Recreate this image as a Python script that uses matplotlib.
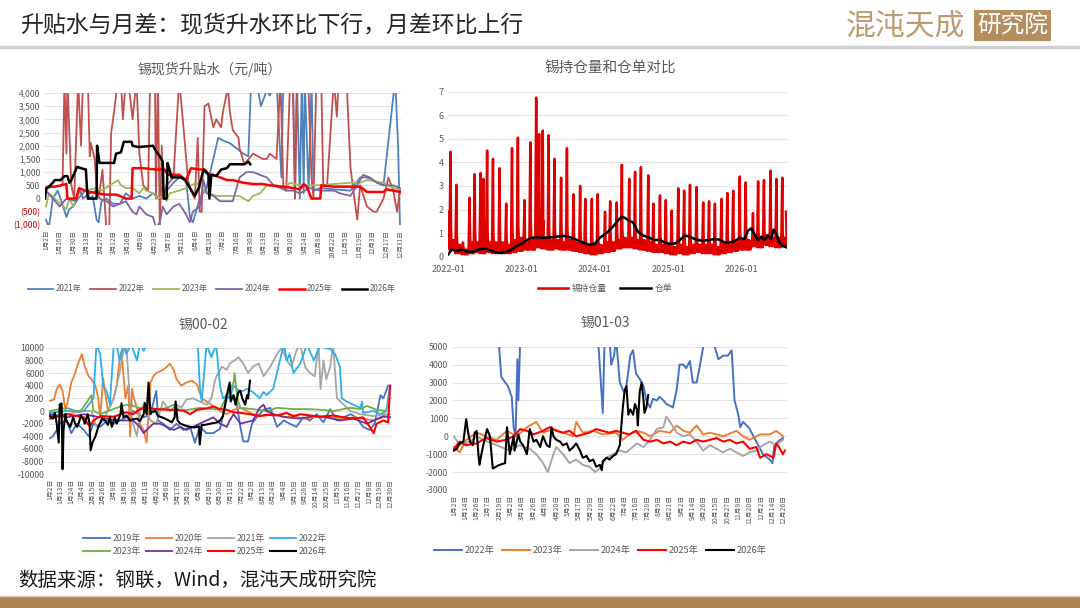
import matplotlib
matplotlib.use("Agg")
import matplotlib.pyplot as plt
from matplotlib.lines import Line2D
from matplotlib.patches import Rectangle

plt.rcParams["font.family"] = ["Noto Sans CJK SC", "DejaVu Sans"]
plt.rcParams["axes.unicode_minus"] = False

GRAY = "#595959"
GRID = "#E3E3E3"

# ---------------- 锡现货升贴水 (x = day of year) ----------------
spot_ticks = ["1月2日", "1月16日", "1月30日", "2月13日", "2月27日", "3月12日", "3月26日",
              "4月9日", "4月23日", "5月7日", "5月21日", "6月4日", "6月18日", "7月2日",
              "7月16日", "7月30日", "8月13日", "8月27日", "9月10日", "9月24日", "10月8日",
              "10月22日", "11月5日", "11月19日", "12月3日", "12月17日", "12月31日"]

spot_2021_d = [1, 4, 8, 13, 16, 22, 25, 29, 34, 39, 42, 46, 49, 53, 55, 58, 63, 70, 77, 83,
               90, 97, 104, 111, 118, 125, 132, 138, 145, 149, 152, 156, 159, 166, 173, 178, 183, 190, 197, 204,
               209, 212, 217, 222, 228, 231, 238, 243, 245, 255, 257, 259, 262, 264, 266, 267, 271, 274, 276, 283,
               297, 314, 324, 331, 348, 360, 363, 365]
spot_2021_v = [-800, -1100, 0, 300, 0, -700, -400, -300, 0, 200, 350, 0, 100, -800, -900, -100, 0, -200, -200, 200,
               0, 100, 0, 200, 0, 300, 600, 800, 700, -700, -900, -400, 0, 400, 1500, 2300, 2200, 2100, 1900, 1700,
               1600, 4500, 4500, 3500, 4100, 3900, 4500, 800, 4500, 4500, 0, 4500, 0, 4500, 200, 4500, 300, 4500, 300, 400,
               350, 300, 800, 800, 500, 4500, 2000, -1100]

spot_2022_d = [1, 18, 20, 22, 23, 27, 30, 34, 37, 39, 44, 46, 47, 51, 53, 56, 59, 61, 63, 66,
               68, 71, 75, 78, 80, 83, 87, 90, 94, 97, 101, 106, 108, 113, 114, 116, 118, 120, 121, 125,
               132, 138, 144, 147, 150, 154, 157, 159, 161, 164, 168, 173, 176, 181, 183, 188, 190, 193, 199, 200,
               205, 207, 214, 224, 228, 231, 238, 242, 245, 248, 252, 255, 257, 259, 269, 271, 274, 276, 279, 284,
               286, 290, 297, 300, 302, 310, 314, 317, 321, 324, 331, 338, 341, 348, 353, 358, 362, 365]
spot_2022_v = [400, 500, 4500, 1700, 4500, 500, 0, 4500, 2000, 4500, 4500, 1600, 2100, 1500, 500, 200, 1100, 0, -1100, -1100,
               2500, 3300, 4500, 4500, 3000, 4500, 4000, 3000, 4500, 1700, 500, 300, 4500, 4500, 0, 4500, -1100, 2000, 0, 500,
               800, 4500, 2000, 700, 300, 0, 2300, -500, -500, 3500, 3600, 2700, 3000, 2700, 3300, 4200, 3300, 2600, 2300, 1900,
               1300, 1400, 1700, 1500, 1500, 1700, 1500, 4500, 500, 300, 4500, 4000, 0, 4500, 4500, 4000, 800, 0, 4500, 4500,
               500, 500, 4500, 3100, 4500, 4500, 1200, 300, -800, 500, -300, -500, -500, 0, 800, 300, -500, 300]

spot_2023_d = [1, 4, 10, 16, 22, 25, 29, 35, 42, 53, 59, 66, 71, 75, 78, 83, 90, 97, 101, 104,
               111, 116, 121, 125, 128, 138, 145, 150, 156, 163, 169, 176, 187, 200, 209, 214, 221, 228, 238, 245,
               252, 262, 279, 297, 314, 324, 331, 348, 358, 365]
spot_2023_v = [-300, 200, 0, -200, -400, 0, -300, 200, 300, 400, 300, 500, 600, 700, 500, 400, 400, 200, 400, 300,
               200, 0, 100, -100, 200, 300, 400, 500, 600, 300, 200, 100, 100, 100, -100, 100, 200, 500, 500, 400,
               600, 500, 500, 550, 600, 600, 700, 600, 400, 350]

spot_2024_d = [1, 8, 15, 22, 32, 35, 39, 46, 53, 56, 63, 70, 77, 83, 90, 94, 97, 104, 111, 114,
               118, 121, 125, 132, 138, 145, 149, 152, 159, 163, 166, 173, 180, 187, 193, 200, 207, 214, 221, 228,
               235, 242, 248, 255, 262, 272, 283, 297, 303, 314, 321, 327, 334, 341, 348, 358, 365]
spot_2024_v = [300, 0, -300, 0, -100, 400, 0, 200, 300, 0, -100, -300, -200, -100, -500, -600, -300, -600, -700, -1100,
               -900, -300, -600, -300, -200, -600, -900, -500, -300, 700, 200, 100, -100, -100, -100, 800, 1000, 1000, 900, 800,
               500, 400, 300, 300, 200, 400, 300, 300, 200, 100, 500, 900, 800, 600, 500, 500, 400]

spot_2025_d = [0, 4, 10, 16, 22, 23, 32, 35, 41, 46, 53, 63, 73, 77, 83, 89, 90, 101, 114, 123,
               126, 138, 145, 150, 159, 164, 169, 173, 180, 187, 193, 204, 214, 224, 231, 245, 255, 262, 266, 269,
               274, 283, 284, 297, 310, 324, 331, 348, 351, 358, 365]
spot_2025_v = [400, 450, 450, 500, 550, 0, 0, 400, 300, 250, 200, 150, 150, 100, 0, 0, 1150, 1150, 1100, 1100,
               900, 900, 700, 1150, 1100, 1100, 900, 900, 800, 700, 700, 600, 550, 550, 500, 450, 400, 350, 550, 450,
               0, 0, 500, 450, 450, 450, 250, 250, 350, 300, 250]

spot_2026_d = [0, 1, 4, 8, 10, 16, 20, 23, 25, 27, 30, 33, 37, 42, 43, 44, 53, 53.5, 55, 56,
               71, 73, 78, 81, 89, 90, 96, 111, 114, 118, 121, 122, 125, 126, 128, 130, 135, 140, 144, 149,
               154, 158, 163, 168, 169, 171, 176, 181, 187, 190, 205, 209, 211]
spot_2026_v = [0, 350, 450, 600, 700, 700, 850, 850, 600, 700, 950, 1200, 1150, 1100, 450, 0, 0, 2000, 1600, 1350,
               1350, 1700, 1750, 2150, 2150, 2000, 1950, 2000, 1800, 1600, 1400, 0, 0, 1350, 1100, 800, 800, 800, 700, 400,
               100, 400, 1100, 900, 0, 900, 850, 1100, 1150, 1300, 1300, 1400, 1300]

# ---------------- 锡持仓量和仓单对比 (x = decimal year) ----------------
hold_peak_t = [2022.03, 2022.11, 2022.20, 2022.29, 2022.36, 2022.44, 2022.48, 2022.53, 2022.61, 2022.70,
               2022.79, 2022.87, 2022.95, 2023.04, 2023.12, 2023.20, 2023.24, 2023.29, 2023.37, 2023.45,
               2023.54, 2023.62, 2023.71, 2023.80, 2023.87, 2023.96, 2024.04, 2024.14, 2024.21, 2024.30,
               2024.37, 2024.47, 2024.55, 2024.63, 2024.73, 2024.80, 2024.89, 2024.97, 2025.05, 2025.14,
               2025.22, 2025.30, 2025.39, 2025.48, 2025.56, 2025.64, 2025.73, 2025.81, 2025.89, 2025.98,
               2026.06, 2026.16, 2026.23, 2026.31, 2026.40, 2026.48, 2026.56]
hold_peak_v = [4.45, 3.05, 0.6, 2.5, 3.5, 3.55, 3.3, 4.5, 4.15, 3.75,
               2.25, 4.6, 5.05, 2.4, 4.85, 6.75, 5.2, 5.35, 5.15, 4.15,
               3.35, 4.6, 2.65, 3.0, 2.45, 2.45, 2.65, 1.9, 2.35, 2.3,
               3.9, 3.3, 3.6, 3.8, 3.45, 2.25, 2.6, 2.4, 1.95, 2.9,
               2.8, 3.05, 2.95, 2.3, 2.35, 2.25, 2.45, 2.7, 2.8, 3.4,
               3.15, 1.85, 3.2, 3.25, 3.65, 3.3, 3.35]
hold_low_v = [0.3, 0.15, 0.1, 0.15, 0.2, 0.15, 0.5, 0.2, 0.15, 0.2,
              0.15, 0.2, 0.25, 0.3, 0.3, 0.4, 1.5, 0.35, 0.3, 0.35,
              0.3, 0.3, 0.25, 0.2, 0.15, 0.1, 0.15, 0.2, 0.25, 0.35,
              0.4, 0.4, 0.35, 0.3, 0.25, 0.2, 0.2, 0.15, 0.1, 0.15,
              0.1, 0.15, 0.2, 0.15, 0.15, 0.1, 0.15, 0.2, 0.25, 0.3,
              0.3, 0.45, 0.4, 0.5, 0.45, 0.4, 0.5]
hold_mid_v = [1.2, 0.9, 0.4, 1.0, 1.1, 1.0, 1.2, 1.1, 1.0, 1.0,
              0.8, 1.2, 1.3, 0.9, 1.4, 1.8, 1.6, 1.4, 1.3, 1.2,
              1.1, 1.2, 0.9, 1.0, 0.9, 0.8, 0.9, 0.8, 0.9, 1.0,
              1.2, 1.1, 1.1, 1.1, 1.0, 0.8, 0.9, 0.8, 0.7, 0.9,
              0.9, 0.9, 0.9, 0.8, 0.8, 0.8, 0.8, 0.9, 0.9, 1.0,
              1.0, 0.9, 1.1, 1.1, 1.2, 1.1, 1.0]
hold_reb_v = [0.7, 0.5, 0.3, 0.6, 0.6, 0.5, 0.9, 0.6, 0.6, 0.6,
              0.5, 0.7, 0.8, 0.6, 0.8, 1.0, 1.1, 0.8, 0.7, 0.7,
              0.6, 0.7, 0.6, 0.6, 0.5, 0.5, 0.5, 0.6, 0.6, 0.7,
              0.8, 0.8, 0.7, 0.7, 0.6, 0.5, 0.5, 0.5, 0.4, 0.5,
              0.4, 0.5, 0.5, 0.5, 0.5, 0.4, 0.5, 0.5, 0.6, 0.7,
              0.7, 0.8, 0.8, 0.9, 0.8, 0.8, 0.8]

receipt_t = [2022.00, 2022.045, 2022.114, 2022.182, 2022.25, 2022.341, 2022.409, 2022.477, 2022.545, 2022.636,
             2022.727, 2022.795, 2022.864, 2022.932, 2023.0, 2023.068, 2023.136, 2023.205, 2023.295, 2023.386,
             2023.477, 2023.568, 2023.636, 2023.727, 2023.841, 2023.932, 2024.0, 2024.068, 2024.159, 2024.227,
             2024.295, 2024.364, 2024.409, 2024.455, 2024.523, 2024.591, 2024.659, 2024.75, 2024.818, 2024.886,
             2024.955, 2025.023, 2025.091, 2025.159, 2025.227, 2025.295, 2025.364, 2025.455, 2025.545, 2025.636,
             2025.705, 2025.773, 2025.841, 2025.909, 2025.977, 2026.045, 2026.091, 2026.136, 2026.182, 2026.227,
             2026.273, 2026.318, 2026.364, 2026.409, 2026.441, 2026.477, 2026.523, 2026.568, 2026.614]
receipt_v = [0.1, 0.3, 0.25, 0.3, 0.22, 0.2, 0.3, 0.35, 0.3, 0.2,
             0.15, 0.2, 0.3, 0.45, 0.55, 0.7, 0.8, 0.82, 0.8, 0.82,
             0.85, 0.88, 0.85, 0.75, 0.6, 0.5, 0.55, 0.8, 1.0, 1.2,
             1.45, 1.7, 1.65, 1.55, 1.45, 1.05, 0.9, 0.8, 0.7, 0.72,
             0.6, 0.55, 0.55, 0.7, 0.9, 0.85, 0.75, 0.68, 0.7, 0.75,
             0.72, 0.6, 0.6, 0.65, 0.8, 0.75, 1.1, 1.2, 0.95, 0.7,
             0.85, 0.7, 0.9, 0.75, 1.15, 0.95, 0.6, 0.45, 0.4]

# ---------------- 锡00-02 (x = trading day index) ----------------
s02_ticks = ["1月2日", "1月13日", "1月24日", "2月4日", "2月15日", "2月26日", "3月8日", "3月19日",
             "3月30日", "4月11日", "4月22日", "5月6日", "5月17日", "5月28日", "6月8日", "6月19日",
             "6月30日", "7月11日", "7月22日", "8月2日", "8月13日", "8月24日", "9月4日", "9月15日",
             "9月26日", "10月14日", "10月25日", "11月5日", "11月16日", "11月27日", "12月8日",
             "12月19日", "12月30日"]

s02_2019_x = [0, 3, 7, 10, 17, 22, 28, 35, 40, 45, 52, 59, 66, 72, 79, 86, 97, 104, 110, 112,
              117, 124, 131, 138, 145, 150, 155, 162, 169, 176, 183, 190, 193, 197, 200, 205, 209, 214, 221, 228,
              235, 242, 248, 255, 262, 269, 276, 283, 290, 297, 304, 311, 317, 324, 331, 336, 342, 345, 350]
s02_2019_v = [-4300, -4000, -3000, -2000, -1500, -3500, -2000, -3000, -4000, -2000, -2500, -1500, -2000, -1500, -1000, 0, -1000, -500, 3200, -1500,
              -2000, -3000, -2000, -3000, -2500, -5000, -2500, -3500, -3500, -2800, 2000, 2500, 1500, -2500, -4800, -4800, -2000, -1000, 200, 500,
              -2500, -1500, -2000, -2500, -1000, -1500, -500, -1800, 300, -1500, -1000, -500, -1000, -2500, -3000, -2000, 2500, 2000, 4000]

s02_2020_x = [0, 4, 7, 10, 13, 16, 19, 22, 26, 29, 33, 36, 40, 43, 47, 50, 52, 55, 58, 60,
              66, 69, 72, 74, 78, 81, 83, 85, 86, 90, 93, 97, 100, 104, 107, 110, 117, 121, 124, 128,
              131, 136, 141, 147, 152, 157, 162, 169, 176, 183, 190, 197, 204, 210, 221, 231, 242, 252, 262, 273,
              283, 293, 304, 314, 324, 335, 345, 350]
s02_2020_v = [1600, 1800, 3500, 4200, 3200, 0, 2000, 4500, 6000, 7500, 9000, 7000, 5500, 5000, 4000, 2000, -1000, 5200, 2000, 0,
              2000, 4000, 8000, 9500, 2000, 4000, -4000, 3500, 2500, 500, -2000, -3000, -5000, 4500, 5500, 6000, 6500, 7000, 7500, 6500,
              5000, 4000, 4500, 4800, 4200, 2000, 1500, 800, 0, -500, 200, 500, 0, -500, -800, -500, -1000, -800, -1200, -1000,
              -800, -1000, -1200, -1000, -1200, -1500, -1000, -800]

s02_2021_x = [0, 17, 35, 43, 48, 55, 66, 72, 76, 79, 83, 86, 90, 93, 97, 104, 110, 117, 124, 131,
              136, 141, 148, 155, 162, 167, 171, 174, 178, 183, 186, 191, 195, 200, 205, 210, 216, 221, 228, 235,
              240, 245, 250, 255, 259, 264, 269, 274, 278, 280, 283, 286, 290, 293, 297, 304, 311, 321, 335, 345, 352]
s02_2021_v = [-800, -500, 0, 0, -2500, -1500, 2000, 6000, 9500, 10500, 1000, -2000, -4000, 0, 1000, -1500, -2000, 1500, 0, 1000,
              500, 1800, 2000, 1500, 1000, 2000, 5000, 6000, 7000, 6500, 7500, 8000, 8500, 7500, 6000, 7000, 7500, 5500, 7000, 9000,
              10000, 8000, 7000, 9500, 10500, 7000, 6000, 5500, 10500, 3500, 8000, 5000, 7000, 10500, 2000, 1000, 0, -500, -800, -500, -500]

s02_2022_x = [0, 17, 35, 45, 48, 52, 55, 59, 62, 66, 69, 72, 76, 79, 84, 90, 93, 97, 100, 153,
              155, 157, 162, 167, 172, 176, 179, 183, 186, 190, 197, 204, 210, 217, 221, 224, 231, 238, 242, 245,
              248, 252, 259, 266, 273, 280, 284, 290, 295, 300, 302, 307, 314, 321, 323, 324, 335, 342, 348, 352]
s02_2022_v = [-300, 0, 0, 2000, 10500, 9000, 4000, 3000, 1000, 10500, 10500, 8000, 10500, 9000, 10500, 8000, 10500, 9500, 10500, 10500,
              4000, 1500, 10500, 8500, 10500, 4000, 2000, 2500, 2000, 4000, 3000, 3500, 3000, 2000, 3000, 2500, 3500, 8000, 10500, 8000,
              9000, 6000, 7500, 10500, 8000, 10500, 10000, 9800, 9000, 7000, 2000, 1500, 1000, 500, 1500, -300, 0, -500, 0, 4000]

s02_2023_x = [0, 17, 31, 43, 45, 52, 69, 79, 86, 104, 121, 128, 135, 155, 169, 176, 190, 191, 194, 197,
              210, 224, 235, 252, 266, 280, 293, 311, 321, 328, 338, 348]
s02_2023_v = [0, 500, -200, 2500, 0, -500, 500, 1000, 800, 0, 500, 1000, 0, 500, 300, 200, 4500, 6000, 2000, 500,
              300, 0, 500, 300, 300, 200, 0, 500, 300, 800, 200, 0]

s02_2024_x = [0, 17, 35, 52, 69, 86, 93, 97, 100, 107, 114, 121, 128, 135, 141, 148, 162, 169, 176, 183,
              186, 190, 197, 210, 217, 221, 224, 231, 245, 259, 273, 286, 300, 314, 328, 335, 345, 352]
s02_2024_v = [-500, -1000, -500, -1000, -1500, -1500, -2500, -3500, -3000, -2000, -2000, -2500, -3000, -2500, -3000, -2500, -1500, -1000, -2000, -2500,
              -1500, -500, -2000, -1500, 500, 1000, 0, -500, -1000, -1200, -800, -1000, -1500, -1200, -2000, -1500, -800, -1000]

s02_2025_x = [0, 17, 35, 41, 45, 52, 66, 79, 86, 93, 100, 110, 121, 138, 145, 152, 162, 169, 176, 183,
              190, 197, 207, 217, 224, 235, 245, 252, 259, 269, 280, 293, 304, 314, 324, 331, 335, 338, 345, 350, 352]
s02_2025_v = [-1200, -500, -1000, -2500, -1500, -800, -900, -200, -500, 300, 500, 300, 200, 100, -500, 200, 400, 700, 300, 200,
              -200, -300, -500, -800, -600, -700, -300, -800, -500, -700, -900, -700, -1000, -1200, -1000, -2500, -3500, -2000, -1500, -1800, 4000]

s02_2026_x = [0, 3, 5, 7, 9, 10, 12, 13, 14, 16, 17, 21, 24, 26, 28, 30, 32, 35, 36, 39,
              41, 42, 44, 47, 50, 54, 57, 60, 62, 64, 67, 69, 73, 74, 76, 79, 83, 86, 90, 93,
              97, 98, 100, 102, 104, 105, 109, 112, 116, 119, 123, 126, 129, 130, 132, 135, 140, 145, 150, 154,
              155, 157, 160, 166, 173, 176, 179, 183, 186, 187, 190, 192, 195, 197, 199, 202, 204, 205, 207]
s02_2026_v = [-800, -1200, -300, -2000, -5000, 1000, 1200, -9200, -3000, -500, -1500, -2500, -1000, -2000, -2500, -1800, -700, -1500, -2000, -500,
              -2000, -6200, -5000, -4000, -2500, -1200, -1500, -2200, -1000, -2500, -1000, -2000, -500, 1200, -1000, -700, -1500, -1300, -1200, -1600,
              -500, 1300, -500, 4500, -500, -200, 0, -800, -1000, -1200, -1500, -1800, -1000, 1500, -1500, -2000, -2300, -2500, -2600, -2400,
              -5300, -2200, -2200, -2000, -1800, -1500, -800, 2500, 4500, 1500, 2500, 1000, 3000, 3200, 2000, 1000, 2500, 2000, 4800]

# ---------------- 锡01-03 (x = trading day index) ----------------
s03_ticks = ["1月2日", "1月14日", "1月26日", "2月7日", "2月19日", "3月2日", "3月14日", "3月26日",
             "4月8日", "4月20日", "5月5日", "5月17日", "5月29日", "6月10日", "6月22日", "7月4日",
             "7月16日", "7月28日", "8月9日", "8月21日", "9月2日", "9月14日", "9月26日", "10月15日",
             "10月27日", "11月8日", "11月20日", "12月2日", "12月14日", "12月26日"]

s03_2022_x = [47, 50, 57, 61, 63, 65, 67, 68, 70, 152, 155, 157, 159, 164, 166, 169, 171, 175, 179, 182,
              186, 189, 192, 196, 200, 203, 207, 210, 214, 217, 221, 224, 228, 231, 235, 238, 242, 245, 249, 252,
              256, 259, 263, 266, 275, 279, 284, 289, 293, 296, 300, 302, 305, 309, 312, 319, 326, 333, 336, 338, 344, 347]
s03_2022_v = [5500, 3300, 2800, 2200, 500, 0, 4300, 2000, 5500, 5500, 3000, 1300, 5500, 5500, 4000, 4500, 5500, 3000, 2500, 2800,
              4500, 4800, 3500, 3200, 2800, 2000, 1600, 2100, 2000, 2200, 2000, 1800, 1700, 1600, 2600, 4000, 4000, 3800, 4200, 3000,
              3000, 3800, 5000, 5500, 5000, 4300, 4500, 4500, 4800, 2000, 1200, 500, 800, 600, 400, -300, -1000, -1300, -1500, -500, -200, -100]

s03_2023_x = [0, 6, 13, 24, 34, 45, 56, 66, 77, 87, 94, 105, 115, 126, 129, 136, 147, 157, 171, 178,
              185, 192, 200, 207, 217, 228, 235, 242, 249, 256, 263, 270, 284, 298, 305, 312, 323, 333, 340, 347]
s03_2023_v = [-600, -900, -200, 200, 0, -200, 300, 0, 500, 800, 200, 400, 200, 0, 800, 200, 300, 100, 200, -200,
              100, 300, 200, 0, 300, 200, 600, 300, 200, 600, 100, 200, 0, 300, 0, -200, 100, 100, 300, 0]

s03_2024_x = [0, 6, 17, 24, 31, 45, 59, 69, 80, 87, 94, 99, 105, 108, 115, 122, 129, 136, 143, 149,
              154, 161, 168, 175, 182, 193, 200, 207, 214, 221, 224, 228, 235, 242, 249, 256, 263, 270, 277, 284,
              291, 298, 305, 312, 319, 326, 333, 340, 347]
s03_2024_v = [0, -500, -300, 0, -200, -500, -800, -500, -700, -1000, -1500, -2000, -1000, -600, -1000, -1500, -1300, -1600, -1700, -2000,
              -1800, -1200, -1000, -800, -900, -400, -600, -200, 400, 500, 1100, 800, 200, 0, 100, -300, -800, -500, -700, -900,
              -700, -900, -1100, -900, -800, -500, -300, -500, -200]

s03_2025_x = [0, 6, 13, 24, 34, 45, 55, 63, 70, 77, 84, 94, 101, 108, 115, 122, 129, 136, 143, 150,
              157, 164, 171, 178, 185, 192, 200, 207, 214, 221, 228, 235, 242, 249, 256, 263, 270, 277, 284, 291,
              298, 305, 312, 319, 323, 330, 337, 340, 344, 347, 349]
s03_2025_v = [-700, -300, -500, -400, -100, -300, -200, 0, 400, 300, 100, 300, 500, 300, 200, 300, 0, 100, 200, 400,
              300, 200, 300, 200, 100, 300, -200, -300, -200, -400, -300, -500, -300, -400, -200, -300, -200, -100, -300, -200,
              -400, -300, -700, -600, -1200, -1000, -1200, -400, -700, -1000, -800]

s03_2026_x = [0, 3, 6, 10, 13, 15, 17, 20, 22, 24, 26, 27, 29, 31, 35, 38, 41, 48, 54, 56,
              59, 63, 64, 68, 70, 73, 77, 80, 84, 87, 91, 94, 98, 101, 103, 105, 108, 112, 115, 119,
              122, 126, 129, 133, 136, 140, 143, 147, 150, 154, 156, 157, 161, 164, 168, 171, 175, 178, 180, 182,
              184, 186, 189, 191, 193, 194, 196, 198, 200, 201, 203, 205]
s03_2026_v = [-800, -700, -400, -300, 950, 200, -300, -500, 200, 300, -1100, -1600, -1000, -500, 400, 0, -1800, -1600, -1500, 500,
              -1000, 0, -800, 100, -300, -500, -1000, 400, -300, -200, -600, 0, -500, -600, 500, 0, -200, -300, -500, -400,
              -800, -600, -400, -800, -1200, -1100, -1400, -1300, -1700, -1600, -1900, -1400, -1200, -1300, -1100, -1000, -500, 1500, 2500, 2800,
              1200, 1500, 1200, 1800, 1500, 600, 2500, 3000, 2000, 1300, 1600, 2300]


def style_axes(ax, label_size):
    for s in ax.spines.values():
        s.set_visible(False)
    ax.tick_params(length=0, colors=GRAY, labelsize=label_size)
    ax.grid(axis="y", color=GRID, linewidth=0.8)
    ax.set_axisbelow(True)


fig = plt.figure(figsize=(10.8, 6.08), dpi=100)

# header
fig.text(0.0185, 0.958, "升贴水与月差：现货升水环比下行，月差环比上行", fontsize=16.5, color="#262626",
         va="center", ha="left")
fig.text(0.783, 0.958, "混沌天成", fontsize=21.5, color="#BF9A6C", va="center", ha="left",
         fontweight="light")
fig.text(0.9375, 0.958, "研究院", fontsize=17, color="white", va="center", ha="center",
         bbox=dict(boxstyle="square,pad=0.15", facecolor="#B48E5E", edgecolor="none"))
fig.add_artist(Line2D([0, 1], [0.9227, 0.9227], color="#CFCFCF", linewidth=2.5))

# footer
fig.text(0.0167, 0.046, "数据来源：钢联，Wind，混沌天成研究院", fontsize=14, color="#1A1A1A",
         va="center", ha="left")
fig.add_artist(Rectangle((0, 0), 1, 0.0185, transform=fig.transFigure, facecolor="#A98452",
                         edgecolor="none"))
fig.add_artist(Line2D([0, 1], [0.0195, 0.0195], color="#DCCBB3", linewidth=1))

# ---- top-left
ax1 = fig.add_axes([0.0417, 0.630, 0.3296, 0.2171])
style_axes(ax1, 6.2)
ax1.plot(spot_2021_d, spot_2021_v, color="#4F81BD", lw=1.3, label="2021年")
ax1.plot(spot_2022_d, spot_2022_v, color="#C0504D", lw=1.3, label="2022年")
ax1.plot(spot_2023_d, spot_2023_v, color="#9BBB59", lw=1.3, label="2023年")
ax1.plot(spot_2024_d, spot_2024_v, color="#8064A2", lw=1.3, label="2024年")
ax1.plot(spot_2025_d, spot_2025_v, color="#FF0000", lw=1.8, label="2025年")
ax1.plot(spot_2026_d, spot_2026_v, color="#000000", lw=1.8, label="2026年")
ax1.set_xlim(0, 366)
ax1.set_ylim(-1000, 4000)
yt = list(range(-1000, 4001, 500))
ax1.set_yticks(yt)
ax1.set_yticklabels([f"{v:,}" if v >= 0 else f"({-v:,})" for v in yt])
for lab, v in zip(ax1.get_yticklabels(), yt):
    if v < 0:
        lab.set_color("#C00000")
ax1.set_xticks([1 + 14 * i for i in range(len(spot_ticks))])
ax1.set_xticklabels(spot_ticks, rotation=90, fontsize=4.8)
fig.text(0.1944, 0.885, "锡现货升贴水（元/吨）", fontsize=10, color=GRAY, ha="center", va="center")
fig.legend(handles=ax1.get_lines(), loc="center", bbox_to_anchor=(0.196, 0.5247), ncol=6,
           frameon=False, fontsize=5.8, handlelength=3.2, columnspacing=1.1, handletextpad=0.3,
           labelcolor=GRAY)

# ---- top-right
ax2 = fig.add_axes([0.4151, 0.5778, 0.3133, 0.2714])
style_axes(ax2, 6.5)
hx, hy = [2022.0], [1.9]
for t, p, lo, mid, reb in zip(hold_peak_t, hold_peak_v, hold_low_v, hold_mid_v, hold_reb_v):
    hx += [t - 0.014, t, t + 0.006, t + 0.018, t + 0.028, t + 0.04, t + 0.05, t + 0.062]
    hy += [lo, p, mid, lo, reb, lo, reb, lo]
hx.append(2026.61)
hy.append(1.9)
ax2.plot(hx, hy, color="#E00000", lw=1.8, label="锡持仓量")
ax2.plot(receipt_t, receipt_v, color="#000000", lw=1.8, label="仓单")
ax2.set_xlim(2022.0, 2026.62)
ax2.set_ylim(0, 7)
ax2.set_yticks(range(0, 8))
ax2.set_xticks([2022, 2023, 2024, 2025, 2026])
ax2.set_xticklabels(["2022-01", "2023-01", "2024-01", "2025-01", "2026-01"])
ax2.tick_params(axis="x", pad=6)
fig.text(0.5648, 0.888, "锡持仓量和仓单对比", fontsize=10.5, color=GRAY, ha="center", va="center")
fig.legend(handles=ax2.get_lines(), loc="center", bbox_to_anchor=(0.560, 0.5247), ncol=2,
           frameon=False, fontsize=6.3, handlelength=3.5, columnspacing=1.5, handletextpad=0.4,
           labelcolor=GRAY)

# ---- bottom-left
ax3 = fig.add_axes([0.0454, 0.2199, 0.3176, 0.2082])
style_axes(ax3, 6.3)
ax3.plot(s02_2019_x, s02_2019_v, color="#4472C4", lw=1.3, label="2019年")
ax3.plot(s02_2020_x, s02_2020_v, color="#ED7D31", lw=1.3, label="2020年")
ax3.plot(s02_2021_x, s02_2021_v, color="#A5A5A5", lw=1.3, label="2021年")
ax3.plot(s02_2022_x, s02_2022_v, color="#2EAEE8", lw=1.3, label="2022年")
ax3.plot(s02_2023_x, s02_2023_v, color="#70AD47", lw=1.3, label="2023年")
ax3.plot(s02_2024_x, s02_2024_v, color="#7030A0", lw=1.3, label="2024年")
ax3.plot(s02_2025_x, s02_2025_v, color="#FF0000", lw=1.5, label="2025年")
ax3.plot(s02_2026_x, s02_2026_v, color="#000000", lw=1.5, label="2026年")
ax3.set_xlim(-1, 354)
ax3.set_ylim(-10000, 10000)
ax3.set_yticks(range(-10000, 10001, 2000))
ax3.set_xticks([11 * i for i in range(len(s02_ticks))])
ax3.set_xticklabels(s02_ticks, rotation=90, fontsize=4.9)
fig.text(0.188, 0.4655, "锡00-02", fontsize=10, color=GRAY, ha="center", va="center")
l3 = ax3.get_lines()
# legend fills column by column, so interleave to get two rows of four
fig.legend(handles=[l3[0], l3[4], l3[1], l3[5], l3[2], l3[6], l3[3], l3[7]], loc="center",
           bbox_to_anchor=(0.19, 0.104), ncol=4, frameon=False, fontsize=6.3, handlelength=3.0,
           columnspacing=0.6, handletextpad=0.3, labelspacing=0.5, labelcolor=GRAY)

# ---- bottom-right
ax4 = fig.add_axes([0.4194, 0.1941, 0.309, 0.2357])
style_axes(ax4, 6.3)
ax4.plot(s03_2022_x, s03_2022_v, color="#4472C4", lw=1.4, label="2022年")
ax4.plot(s03_2023_x, s03_2023_v, color="#ED7D31", lw=1.4, label="2023年")
ax4.plot(s03_2024_x, s03_2024_v, color="#A5A5A5", lw=1.4, label="2024年")
ax4.plot(s03_2025_x, s03_2025_v, color="#FF0000", lw=1.5, label="2025年")
ax4.plot(s03_2026_x, s03_2026_v, color="#000000", lw=1.5, label="2026年")
ax4.set_xlim(-1, 351)
ax4.set_ylim(-3000, 5000)
ax4.set_yticks(range(-3000, 5001, 1000))
ax4.set_xticks([12 * i for i in range(len(s03_ticks))])
ax4.set_xticklabels(s03_ticks, rotation=90, fontsize=4.9)
fig.text(0.560, 0.4688, "锡01-03", fontsize=10, color=GRAY, ha="center", va="center")
fig.legend(handles=ax4.get_lines(), loc="center", bbox_to_anchor=(0.5556, 0.0938), ncol=5,
           frameon=False, fontsize=6.7, handlelength=3.0, columnspacing=0.8, handletextpad=0.3,
           labelcolor=GRAY)

fig.savefig("out.png", dpi=100)
